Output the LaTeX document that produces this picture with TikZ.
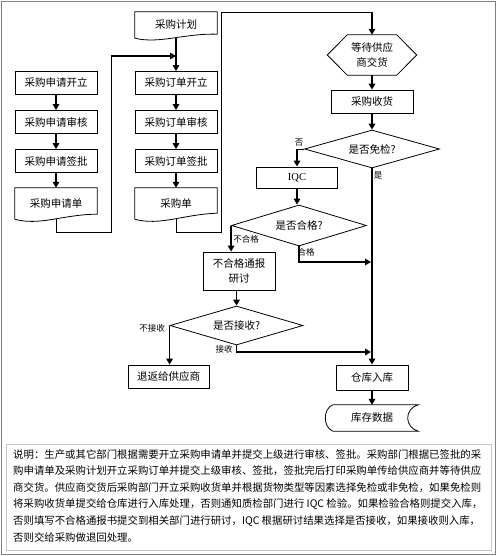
\documentclass[tikz,border=0pt]{standalone}
\usepackage{fontspec}
\setmainfont{Noto Sans CJK SC}
\newfontfamily\latinserif{Liberation Serif}
\usetikzlibrary{arrows.meta,shapes.geometric,calc}
\newcommand\docline[3]{%
\draw[line width=0.8pt] (#1.south west) -- (#1.north west) -- (#1.north east) -- ([yshift=#2pt]#1.south east) .. controls ($(#1.south west)!0.6!(#1.south east)+(0,-5)$) and ($(#1.south west)!0.3!(#1.south east)+(0,#3)$) .. (#1.south west);}
\begin{document}
\begin{tikzpicture}[x=1pt,y=-1pt,
  thinline/.style={line width=0.8pt},
  arr/.style={line width=1.6pt,-{Triangle[length=6pt,width=6.5pt]}},
  box/.style={draw,line width=0.8pt,inner sep=0pt,minimum width=82pt,minimum height=23pt,font=\fontsize{10.5}{15}\selectfont,align=center},
  plain/.style={draw=none,inner sep=0pt,minimum width=82pt,font=\fontsize{10.5}{15}\selectfont,align=center},
  dec/.style={diamond,draw,line width=0.8pt,inner sep=0pt,aspect=3,font=\fontsize{10.5}{15}\selectfont},
  lbl/.style={inner sep=0pt,font=\fontsize{8.5}{10}\selectfont}]
\useasboundingbox (0,0) rectangle (497,556);
\draw[gray,line width=1pt] (1.5,1.5) rectangle (495.5,554.5);

% left column
\node[box] (sq1) at (56,83) {采购申请开立};
\node[box] (sq2) at (56,122) {采购申请审核};
\node[box] (sq3) at (56,161) {采购申请签批};
\node[plain,minimum height=31pt] (sq4) at (56,203.5) {采购申请单};
\docline{sq4}{5}{7}

% middle column
\node[plain,minimum height=26pt] (plan) at (176,25) {采购计划};
\docline{plan}{4}{6}
\node[box] (dk1) at (176,83) {采购订单开立};
\node[box] (dk2) at (176,122) {采购订单审核};
\node[box] (dk3) at (176,161) {采购订单签批};
\node[plain,minimum height=31pt] (dk4) at (176,203.5) {采购单};
\docline{dk4}{6}{7}

\draw[arr] (sq1) -- (sq2);
\draw[arr] (sq2) -- (sq3);
\draw[arr] (sq3) -- (sq4);
\draw[arr] (plan.south) -- (dk1.north);
\draw[arr] (dk1) -- (dk2);
\draw[arr] (dk2) -- (dk3);
\draw[arr] (dk3) -- (dk4);

\coordinate (l1) at (111,232);
\coordinate (l2) at (111,56);
\coordinate (m1) at (176,56);
\draw[thinline] (sq4.south) |- (l1) -- (l2);
\draw[arr] (l2) -- (m1);

% right column
\node[plain,minimum width=89pt,minimum height=40pt] (wait) at (372,55) {等待供应\\商交货};
\draw[thinline] (wait.west) -- ([xshift=20pt]wait.north west) -- ([xshift=-20pt]wait.north east) -- (wait.east) -- ([xshift=-20pt]wait.south east) -- ([xshift=20pt]wait.south west) -- cycle;

\coordinate (r1) at (221,232);
\coordinate (r2) at (372,12);
\draw[thinline] (dk4.south) |- (r1) |- (r2);
\draw[arr] (r2) -- (wait.north);

\node[box] (sh) at (372,101.5) {采购收货};
\node[dec,minimum width=135pt,minimum height=38pt] (mj) at (372,149) {是否免检?};
\node[box,minimum width=81pt,minimum height=21pt,font=\latinserif\fontsize{10.5}{12}\selectfont] (iqc) at (297,177.5) {IQC};
\node[dec,minimum width=135pt,minimum height=41pt] (hg) at (299,225.5) {是否合格?};
\node[box,minimum width=72pt,minimum height=38pt] (bhg) at (239,271) {不合格通报\\研讨};
\node[dec,minimum width=133pt,minimum height=39pt] (js) at (236.5,325.5) {是否接收?};
\node[box,minimum width=81pt,minimum height=23pt] (th) at (168.5,376.5) {退返给供应商};
\node[box,minimum width=72pt,minimum height=25pt] (ck) at (372,377.5) {仓库入库};
\node[plain,minimum width=92pt,minimum height=26pt] (kc) at (372,418) {库存数据};
\draw[thinline] ([xshift=7pt]kc.north west) -- (kc.north east) .. controls ([xshift=-14pt,yshift=-4pt]kc.north east) and ([xshift=-14pt,yshift=4pt]kc.south east) .. (kc.south east) -- ([xshift=7pt]kc.south west) .. controls ([xshift=-3pt,yshift=4pt]kc.south west) and ([xshift=-3pt,yshift=-4pt]kc.north west) .. cycle;

\draw[arr] (wait.south) -- (sh.north);
\draw[arr] (sh.south) -- (mj.north);
\draw[thinline] (mj.west) -- (iqc.north |- mj.west);
\draw[arr] (iqc.north |- mj.west) -- (iqc.north);
\node[lbl] (lno) at (299,143) {否};
\draw[arr] (mj.south) -- (ck.north);
\node[lbl] (lyes) at (378,175) {是};
\draw[arr] (iqc.south) -- (iqc.south |- hg.north);
\draw[arr] (hg.west) -- (hg.west |- bhg.north);
\node[lbl] (lbhg) at (246,239) {不合格};
\coordinate (h1) at (371,262);
\draw[arr] (hg.south) |- (h1);
\node[lbl] (lhg) at (306,252) {合格};
\draw[arr] (js.north |- bhg.south) -- (js.north);
\draw[arr] (js.west) -- (js.west |- th.north);
\node[lbl] (lbjs) at (152,328) {不接收};
\coordinate (j1) at (371,352);
\draw[arr] (js.south) |- (j1);
\node[lbl] (ljs) at (224,349) {接收};
\draw[arr] (ck.south) -- (kc.north);

% description
\draw[gray!45,line width=0.8pt] (6,444) rectangle (491,550);
\node[anchor=north west,inner sep=0pt,align=left,font=\fontsize{10.4}{16.6}\selectfont] (desc) at (13,449) {说明：生产或其它部门根据需要开立采购申请单并提交上级进行审核、签批。采购部门根据已签批的采\\购申请单及采购计划开立采购订单并提交上级审核、签批，签批完后打印采购单传给供应商并等待供应\\商交货。供应商交货后采购部门开立采购收货单并根据货物类型等因素选择免检或非免检，如果免检则\\将采购收货单提交给仓库进行入库处理，否则通知质检部门进行 IQC 检验。如果检验合格则提交入库，\\否则填写不合格通报书提交到相关部门进行研讨，IQC 根据研讨结果选择是否接收，如果接收则入库，\\否则交给采购做退回处理。};
\end{tikzpicture}
\end{document}
